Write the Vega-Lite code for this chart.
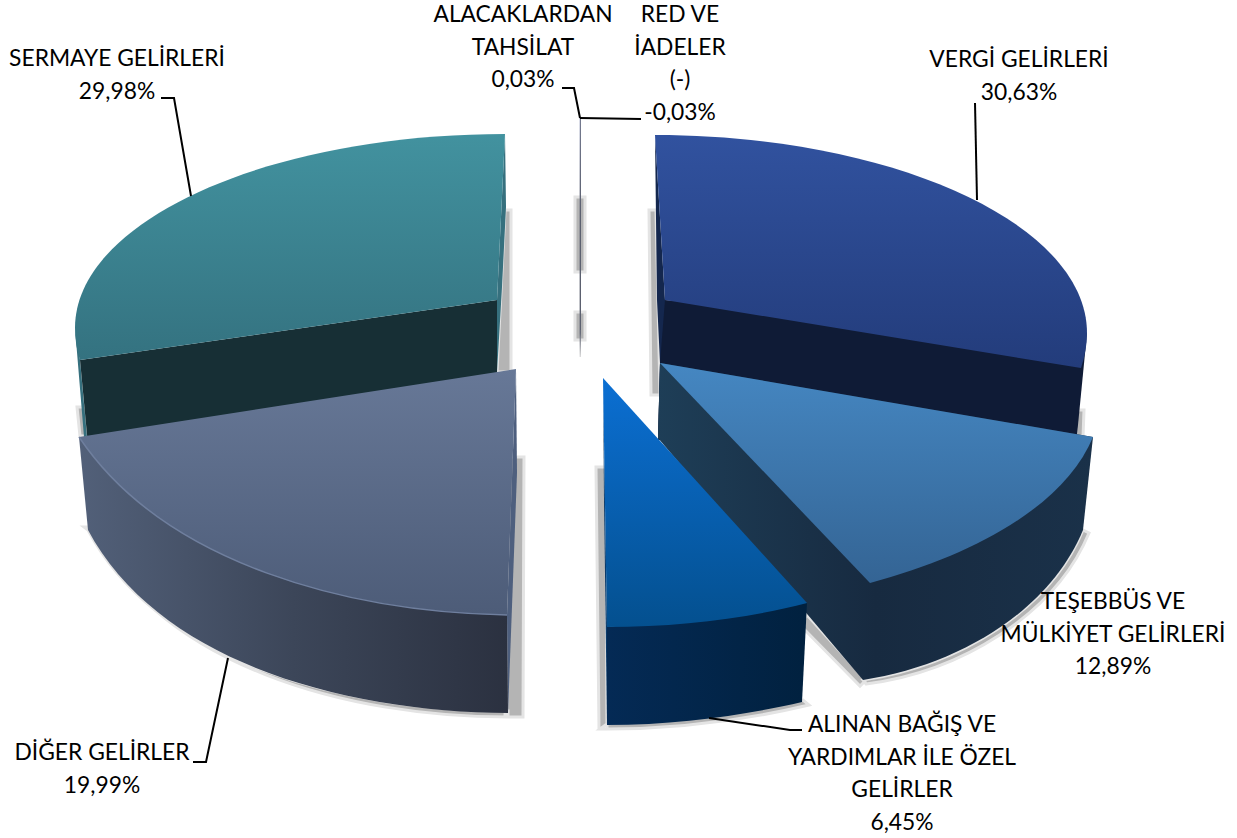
{"$schema":"https://vega.github.io/schema/vega-lite/v6.json","width":1237,"height":838,"padding":0,"autosize":{"type":"none"},"background":"white","config":{"view":{"stroke":null}},
"data":{"values":[
{"name":"SERMAYE GELİRLERİ","label":"SERMAYE GELİRLERİ","value":29.98},
{"name":"VERGİ GELİRLERİ","label":"VERGİ GELİRLERİ","value":30.63},
{"name":"DİĞER GELİRLER","label":"DİĞER GELİRLER","value":19.99},
{"name":"ALACAKLARDAN TAHSİLAT","label":"ALACAKLARDAN\nTAHSİLAT","value":0.03},
{"name":"RED VE İADELER (-)","label":"RED VE\nİADELER\n(-)","value":-0.03},
{"name":"TEŞEBBÜS VE MÜLKİYET GELİRLERİ","label":"TEŞEBBÜS VE\nMÜLKİYET GELİRLERİ","value":12.89},
{"name":"ALINAN BAĞIŞ VE YARDIMLAR İLE ÖZEL GELİRLER","label":"ALINAN BAĞIŞ VE\nYARDIMLAR İLE ÖZEL\nGELİRLER","value":6.45}
]},
"resolve":{"scale":{"x":"independent","y":"independent","shape":"independent","fill":"independent"}},
"layer":[
{"mark":{"type":"point","filled":true,"size":4,"opacity":1,"fill":"#b4b4b4","stroke":"#e4e4e4","strokeWidth":3},
"encoding":{"x":{"datum":0,"type":"quantitative","scale":{"domain":[0,1237],"range":[0,1237],"zero":false,"nice":false},"axis":null},"y":{"datum":0,"type":"quantitative","scale":{"domain":[0,838],"range":[0,838],"zero":false,"nice":false},"axis":null},
"shape":{"field":"name","type":"nominal","legend":null,"scale":{"domain":["SERMAYE GELİRLERİ","VERGİ GELİRLERİ","DİĞER GELİRLER","ALACAKLARDAN TAHSİLAT","RED VE İADELER (-)","TEŞEBBÜS VE MÜLKİYET GELİRLERİ","ALINAN BAĞIŞ VE YARDIMLAR İLE ÖZEL GELİRLER"],"range":[
"M505,210 L511,210 L511,372 L497,372 Z M77,407 L86,407 L88,436 L80,436 Z",
"M649,210 L656,210 L660,395 L651,395 Z M1076,410 L1084,410 L1083,437 L1076,437 Z",
"M510,457 L524,457 L523,717 L505,717 Z M84,527 L90,527 C160,668 350,717 508,717 L508,711 C350,711 160,665 88,530 Z",
"M575,197 L585,197 L585,272 L575,272 Z",
"M575,312 L585,312 L585,340 L575,340 Z",
"M1083,530 L1089,533 C1055,615 960,672 866,684 L863,680 C960,665 1050,610 1083,530 Z M800,625 L860,686 L866,680 L807,615 Z",
"M596,467 L606,467 L607,729 L599,729 Z M600,729 L607,729 C680,729 750,719 809,705 L803,700 L607,724 Z"]}}}},
{"transform":[{"filter":{"field":"name","oneOf":["SERMAYE GELİRLERİ","VERGİ GELİRLERİ","DİĞER GELİRLER","ALINAN BAĞIŞ VE YARDIMLAR İLE ÖZEL GELİRLER"]}}],
"mark":{"type":"point","filled":true,"size":4,"opacity":1,"stroke":null},
"encoding":{"x":{"datum":0,"type":"quantitative","scale":{"domain":[0,1237],"range":[0,1237],"zero":false,"nice":false},"axis":null},"y":{"datum":0,"type":"quantitative","scale":{"domain":[0,838],"range":[0,838],"zero":false,"nice":false},"axis":null},
"shape":{"field":"name","type":"nominal","legend":null,"scale":{"domain":["SERMAYE GELİRLERİ","VERGİ GELİRLERİ","DİĞER GELİRLER","ALINAN BAĞIŞ VE YARDIMLAR İLE ÖZEL GELİRLER"],"range":[
"M505,134 L497,300 L497,372 L502,287 L506,207 Z M75,328 L80,360 L87,437 L84,437 Z",
"M655,135 L665,300 L665,365 L658,440 L660,363 L657,300 Z",
"M516,369 L507,615 L508,713 L517,473 Z",
"M603,378 L607,627 L607,725 L604,500 Z"]}},
"fill":{"field":"name","type":"nominal","legend":null,"scale":{"domain":["SERMAYE GELİRLERİ","VERGİ GELİRLERİ","DİĞER GELİRLER","ALINAN BAĞIŞ VE YARDIMLAR İLE ÖZEL GELİRLER"],"range":["#36707e","#14274e","#4e5f7e","#0a3a6a"]}}}},
{"transform":[{"filter":{"field":"name","oneOf":["SERMAYE GELİRLERİ","VERGİ GELİRLERİ","DİĞER GELİRLER","TEŞEBBÜS VE MÜLKİYET GELİRLERİ","ALINAN BAĞIŞ VE YARDIMLAR İLE ÖZEL GELİRLER"]}}],
"mark":{"type":"point","filled":true,"size":4,"opacity":1,"stroke":null},
"encoding":{"x":{"datum":0,"type":"quantitative","scale":{"domain":[0,1237],"range":[0,1237],"zero":false,"nice":false},"axis":null},"y":{"datum":0,"type":"quantitative","scale":{"domain":[0,838],"range":[0,838],"zero":false,"nice":false},"axis":null},
"shape":{"field":"name","type":"nominal","legend":null,"scale":{"domain":["SERMAYE GELİRLERİ","VERGİ GELİRLERİ","DİĞER GELİRLER","TEŞEBBÜS VE MÜLKİYET GELİRLERİ","ALINAN BAĞIŞ VE YARDIMLAR İLE ÖZEL GELİRLER"],"range":[
"M80,360 L497,300 L497,382 L88,445 Z",
"M665,300 L1087,333 L1077,435 L658,440 L660,363 Z",
"M79,437 L88,530 C160,665 350,712 508,713 L507,615 Z",
"M660,363 L658,438 L863,680 C960,665 1050,610 1083,530 L1093,437 Z",
"M607,627 L607,725 C680,725 750,714 802,702 L807,603 Z"]}},
"fill":{"field":"name","type":"nominal","legend":null,"scale":{"domain":["SERMAYE GELİRLERİ","VERGİ GELİRLERİ","DİĞER GELİRLER","TEŞEBBÜS VE MÜLKİYET GELİRLERİ","ALINAN BAĞIŞ VE YARDIMLAR İLE ÖZEL GELİRLER"],"range":[
"#172f35","#0f1b36",
{"expr":"{gradient:'linear',x1:0,y1:0,x2:1,y2:0,stops:[{offset:0,color:'#526079'},{offset:0.5,color:'#3c4659'},{offset:1,color:'#2b3140'}]}"},
{"expr":"{gradient:'linear',x1:0,y1:0,x2:1,y2:0,stops:[{offset:0,color:'#1e3e57'},{offset:0.5,color:'#172a40'},{offset:1,color:'#1a3149'}]}"},
{"expr":"{gradient:'linear',x1:0,y1:0,x2:1,y2:0,stops:[{offset:0,color:'#042a55'},{offset:1,color:'#01213f'}]}"}]}}}},
{"mark":{"type":"point","filled":true,"size":4,"opacity":1,"stroke":null},
"encoding":{"x":{"datum":0,"type":"quantitative","scale":{"domain":[0,1237],"range":[0,1237],"zero":false,"nice":false},"axis":null},"y":{"datum":0,"type":"quantitative","scale":{"domain":[0,838],"range":[0,838],"zero":false,"nice":false},"axis":null},
"shape":{"field":"name","type":"nominal","legend":null,"scale":{"domain":["SERMAYE GELİRLERİ","VERGİ GELİRLERİ","DİĞER GELİRLER","ALACAKLARDAN TAHSİLAT","RED VE İADELER (-)","TEŞEBBÜS VE MÜLKİYET GELİRLERİ","ALINAN BAĞIŞ VE YARDIMLAR İLE ÖZEL GELİRLER"],"range":[
"M505,134 C268,134 75,221 75,328 Q75,345 80,360 L497,300 Z",
"M655,135 C893,135 1087,224 1087,333 Q1087,350 1081,368 L665,300 Z",
"M79,437 L516,369 L507,615 C350,612 165,565 79,437 Z",
"M579.6,118 L581,118 L581,357 L579.6,357 Z",
"M580,118 L580.6,118 L580.6,330 L580,330 Z",
"M660,363 L1093,437 C1065,505 975,555 870,583 Z",
"M603,378 L807,603 C750,618 680,627 607,627 Z"]}},
"fill":{"field":"name","type":"nominal","legend":null,"scale":{"domain":["SERMAYE GELİRLERİ","VERGİ GELİRLERİ","DİĞER GELİRLER","ALACAKLARDAN TAHSİLAT","RED VE İADELER (-)","TEŞEBBÜS VE MÜLKİYET GELİRLERİ","ALINAN BAĞIŞ VE YARDIMLAR İLE ÖZEL GELİRLER"],"range":[
{"expr":"{gradient:'linear',x1:0,y1:0,x2:0,y2:1,stops:[{offset:0,color:'#42929f'},{offset:1,color:'#347280'}]}"},
{"expr":"{gradient:'linear',x1:0,y1:0,x2:0,y2:1,stops:[{offset:0,color:'#31529f'},{offset:1,color:'#233c7b'}]}"},
{"expr":"{gradient:'linear',x1:0,y1:0,x2:0,y2:1,stops:[{offset:0,color:'#677897'},{offset:1,color:'#4d5c78'}]}"},
{"expr":"{gradient:'linear',x1:0,y1:0,x2:0,y2:1,stops:[{offset:0,color:'#a5acc8'},{offset:0.4,color:'#666a78'},{offset:0.9,color:'#666a78'},{offset:1,color:'#dddddd'}]}"},
"#555a6a",
{"expr":"{gradient:'linear',x1:0,y1:0,x2:0,y2:1,stops:[{offset:0,color:'#4587c2'},{offset:1,color:'#346494'}]}"},
{"expr":"{gradient:'linear',x1:0,y1:0,x2:0,y2:1,stops:[{offset:0,color:'#0b6fd3'},{offset:1,color:'#04508f'}]}"}]}}}},
{"transform":[{"filter":{"field":"name","equal":"DİĞER GELİRLER"}}],
"mark":{"type":"point","filled":false,"size":4,"opacity":1,"stroke":"#6f7f9e","strokeWidth":1.5},
"encoding":{"x":{"datum":0,"type":"quantitative","scale":{"domain":[0,1237],"range":[0,1237],"zero":false,"nice":false},"axis":null},"y":{"datum":0,"type":"quantitative","scale":{"domain":[0,838],"range":[0,838],"zero":false,"nice":false},"axis":null},
"shape":{"field":"name","type":"nominal","legend":null,"scale":{"domain":["DİĞER GELİRLER"],"range":["M507,615 C350,612 165,565 79,437"]}}}},
{"transform":[{"filter":{"field":"name","oneOf":["SERMAYE GELİRLERİ","VERGİ GELİRLERİ","DİĞER GELİRLER","ALACAKLARDAN TAHSİLAT","RED VE İADELER (-)","ALINAN BAĞIŞ VE YARDIMLAR İLE ÖZEL GELİRLER"]}}],
"mark":{"type":"point","filled":false,"size":4,"opacity":1,"stroke":"#000000","strokeWidth":2},
"encoding":{"x":{"datum":0,"type":"quantitative","scale":{"domain":[0,1237],"range":[0,1237],"zero":false,"nice":false},"axis":null},"y":{"datum":0,"type":"quantitative","scale":{"domain":[0,838],"range":[0,838],"zero":false,"nice":false},"axis":null},
"shape":{"field":"name","type":"nominal","legend":null,"scale":{"domain":["SERMAYE GELİRLERİ","VERGİ GELİRLERİ","DİĞER GELİRLER","ALACAKLARDAN TAHSİLAT","RED VE İADELER (-)","ALINAN BAĞIŞ VE YARDIMLAR İLE ÖZEL GELİRLER"],"range":[
"M161,98 L174,98 L191,196",
"M975,103 L977,200",
"M193,762 L206,762 L228,658",
"M562,88 L574,88 L580,118",
"M580,118 L641,119",
"M709,718 L790,730 L802,730"]}}}},
{"transform":[{"calculate":"datum.label + (datum.label ? '\\n' : '') + replace(replace(format(datum.value,'.2f'),'.',','),'−','-') + '%'","as":"txt"}],
"mark":{"type":"text","font":"Lato","fontSize":22.8,"lineBreak":"\n","lineHeight":32.7,"align":"center","baseline":"alphabetic","color":"#000000"},
"encoding":{"text":{"field":"txt","type":"nominal"},
"x":{"field":"value","type":"quantitative","axis":null,"scale":{"zero":false,"nice":false,"domain":[-0.03,0.03,6.45,12.89,19.99,29.98,30.63],"range":[680,523,902,1113,102,117,1019]}},
"y":{"field":"value","type":"quantitative","axis":null,"scale":{"zero":false,"nice":false,"domain":[-0.03,0.03,6.45,12.89,19.99,29.98,30.63],"range":[22,22,732,609,760,66,67]}}}}
]}
